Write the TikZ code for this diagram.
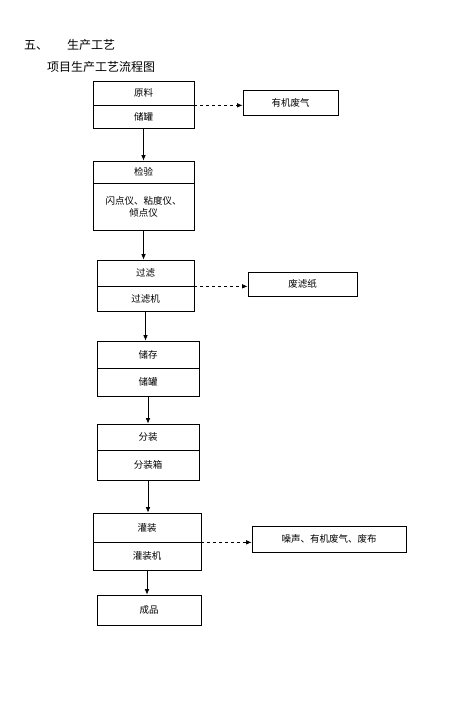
\documentclass[tikz,border=0pt]{standalone}
\usepackage{fontspec}
\setmainfont{Noto Sans CJK SC}
\usetikzlibrary{arrows.meta,positioning}
\tikzstyle{every node}+=[inner sep=0.5mm,font=\fontsize{9.5}{12}\selectfont]
\tikzstyle{half}=[draw,rectangle,line width=0.7pt,minimum width=101pt,minimum height=24pt]
\tikzstyle{waste}=[draw,rectangle,line width=0.7pt,minimum height=25pt]
\tikzstyle{flow}=[line width=0.7pt,-{Latex[length=5.5pt,width=4.5pt]}]
\tikzstyle{wasteflow}=[flow,dash pattern=on 3pt off 3pt]
\tikzstyle{title}=[font=\fontsize{12}{14}\selectfont]
% vertical step arrows
\newcommand{\drawflows}[1]{
	\foreach \a/\b in {#1}{
		\draw[flow] (\a) -- (\a |- \b);
	}
}
% horizontal dashed arrows to the wastes
\newcommand{\drawwastes}[1]{
	\foreach \a/\b in {#1}{
		\draw[wasteflow] (\a) -- (\b |- \a);
	}
}

\begin{document}
\begin{tikzpicture}[x=1pt,y=-1pt]
\useasboundingbox (0,0) rectangle (470,706);
% heading
\node[title] (h0) at (36,45) {五、};
\node[title] (h1) at (91,45) {生产工艺};
\node[title] (h2) at (101,67) {项目生产工艺流程图};

% main steps
\node[half] (a1) at (143.5,93) {原料};
\node[half,minimum height=23pt] (a2) at (143.5,116.5) {储罐};
\node[half,minimum height=22pt] (b1) at (143.5,172) {检验};
\node[half,minimum height=47pt,align=center] (b2) at (143.5,206.5) {闪点仪、粘度仪、\\倾点仪};
\node[half,minimum width=97pt,minimum height=26pt] (c1) at (145.5,273) {过滤};
\node[half,minimum width=97pt,minimum height=25pt] (c2) at (145.5,298.5) {过滤机};
\node[half,minimum width=102pt,minimum height=27pt] (d1) at (148,354.5) {储存};
\node[half,minimum width=102pt,minimum height=28pt] (d2) at (148,382) {储罐};
\node[half,minimum width=102pt,minimum height=26pt] (e1) at (148,437) {分装};
\node[half,minimum width=102pt,minimum height=30pt] (e2) at (148,465) {分装箱};
\node[half,minimum width=108pt,minimum height=29pt] (f1) at (147,527.5) {灌装};
\node[half,minimum width=108pt,minimum height=28pt] (f2) at (147,556) {灌装机};
\node[half,minimum width=104pt,minimum height=30pt] (g) at (149,610) {成品};

% wastes
\node[waste,minimum width=95pt] (gas) at (290.5,102.5) {有机废气};
\node[waste,minimum width=109pt,minimum height=24pt] (paper) at (302.5,284) {废滤纸};
\node[waste,minimum width=154pt,minimum height=26pt] (noise) at (329,539) {噪声、有机废气、废布};

\drawflows{a2.south/b1.north,b2.south/c1.north,c2.south/d1.north,d2.south/e1.north,e2.south/f1.north,f2.south/g.north}
\drawwastes{a1.south east/gas.west,c1.south east/paper.west,f1.south east/noise.west}
\end{tikzpicture}
\end{document}
